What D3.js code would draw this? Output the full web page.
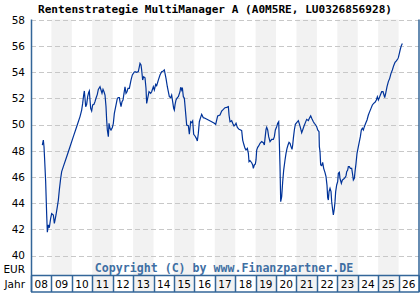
<!DOCTYPE html>
<html><head><meta charset="utf-8">
<script src="https://cdn.jsdelivr.net/npm/d3@7"></script>
<style>html,body{margin:0;padding:0;background:#fff;}svg{display:block;}</style>
</head><body>
<script>
const title = "Rentenstrategie MultiManager A (A0M5RE, LU0326856928)";
const copyright = "Copyright (C) by www.Finanzpartner.DE";
const yTicks = [40,42,44,46,48,50,52,54,56,58];
const yearLabels = ["08","09","10","11","12","13","14","15","16","17","18","19","20","21","22","23","24","25","26"];
const shadedYears = [2009,2011,2013,2015,2017,2019,2021,2023,2025];
const shadedYearCells = [2011,2013,2015,2017,2019,2021,2023,2025];
const times = [
2008.555,2008.604,2008.637,2008.669,2008.718,2008.767,2008.800,2008.849,2008.898,2008.963,2009.012,2009.094,2009.143,2009.192,2009.224,2009.290,2009.339,2009.387,2009.453,2009.502,2009.583,2009.747,2009.910,2010.073,2010.236,2010.400,2010.481,2010.530,2010.579,2010.612,2010.644,2010.677,2010.726,2010.775,2010.824,2010.857,2010.889,2010.922,2010.971,2011.020,2011.085,2011.134,2011.183,2011.248,2011.297,2011.379,2011.428,2011.477,2011.526,2011.575,2011.624,2011.673,2011.705,2011.738,2011.787,2011.820,2011.869,2011.918,2011.983,2012.032,2012.081,2012.130,2012.179,2012.228,2012.277,2012.326,2012.359,2012.408,2012.457,2012.505,2012.554,2012.603,2012.652,2012.701,2012.750,2012.816,
2012.897,2012.962,2013.044,2013.093,2013.174,2013.256,2013.338,2013.387,2013.419,2013.468,2013.517,2013.582,2013.631,2013.664,2013.713,2013.778,2013.860,2013.909,2013.991,2014.040,2014.105,2014.154,2014.235,2014.317,2014.399,2014.480,2014.529,2014.562,2014.611,2014.676,2014.725,2014.774,2014.839,2014.888,2014.937,2014.986,2015.019,2015.052,2015.101,2015.166,2015.215,2015.296,2015.329,2015.378,2015.411,2015.460,2015.509,2015.574,2015.623,2015.705,2015.754,2015.819,2015.868,2015.917,2015.966,2016.031,2016.096,2016.145,2016.194,2016.243,2016.292,2016.358,2016.439,2016.521,2016.684,2016.847,2016.978,2017.043,2017.092,2017.141,2017.255,2017.337,2017.419,2017.500,
2017.582,2017.664,2017.697,2017.746,2017.827,2017.876,2017.942,2017.991,2018.040,2018.105,2018.187,2018.268,2018.317,2018.366,2018.431,2018.480,2018.529,2018.595,2018.644,2018.676,2018.725,2018.807,2018.856,2018.888,2018.937,2018.986,2019.019,2019.052,2019.100,2019.149,2019.215,2019.296,2019.378,2019.427,2019.460,2019.509,2019.541,2019.590,2019.639,2019.705,2019.786,2019.868,2019.917,2019.966,2020.031,2020.080,2020.129,2020.162,2020.194,2020.227,2020.276,2020.325,2020.374,2020.439,2020.488,2020.537,2020.586,2020.635,2020.684,2020.733,2020.782,2020.815,2020.847,2020.896,2020.945,2021.010,2021.092,2021.174,2021.255,2021.304,2021.370,2021.435,2021.500,2021.582,2021.631,2021.696,2021.745,2021.827,2021.876,2021.941,2021.990,
2022.039,2022.104,2022.120,2022.153,2022.185,2022.234,2022.283,2022.332,2022.398,2022.447,2022.496,2022.528,2022.561,2022.594,2022.643,2022.692,2022.724,2022.773,2022.806,2022.855,2022.887,2022.920,2022.969,2023.018,2023.051,2023.100,2023.132,2023.198,2023.247,2023.312,2023.377,2023.426,2023.459,2023.508,2023.540,2023.589,2023.638,2023.704,2023.753,2023.785,2023.834,2023.867,2023.916,2023.965,2024.030,2024.079,2024.128,2024.177,2024.226,2024.275,2024.324,2024.389,2024.455,2024.520,2024.585,2024.650,2024.716,2024.781,2024.846,2024.912,2024.961,2025.010,2025.059,2025.108,2025.173,2025.238,2025.287,2025.320,2025.369,2025.434,2025.499,2025.565,2025.630,2025.695,2025.760,2025.826,2025.891,2025.956,2025.989,2026.038,2026.087,2026.136,2026.185];
const values = [
48.44,48.82,48.31,47.30,45.64,43.15,41.78,42.34,42.13,42.85,43.20,43.10,42.46,42.85,43.10,43.74,44.24,45.01,45.90,46.41,46.79,47.55,48.31,49.08,49.84,50.61,51.11,51.62,52.26,52.57,52.01,51.37,51.55,52.13,52.46,52.57,51.88,51.24,51.04,51.50,51.55,51.75,52.01,52.31,52.69,52.89,52.64,52.39,52.69,52.51,52.26,51.37,50.35,49.59,49.08,50.10,49.71,49.59,49.77,50.10,50.86,51.24,51.62,52.01,52.06,52.06,51.75,51.37,51.75,51.88,52.39,52.89,52.39,52.51,52.77,52.77,
53.40,53.79,53.99,54.04,53.99,54.04,54.68,54.55,54.17,53.40,53.66,53.58,52.77,51.62,52.01,52.51,52.39,52.51,52.89,52.64,53.07,52.97,53.40,53.79,54.04,54.09,54.17,53.91,53.53,52.89,52.51,52.13,52.06,52.26,51.75,51.24,51.11,51.50,51.88,52.06,52.13,52.51,52.85,52.64,52.82,52.13,52.01,50.86,49.97,49.92,49.26,50.22,50.15,50.28,49.26,49.13,48.95,48.75,49.33,50.22,50.48,50.78,50.53,50.48,50.35,50.22,50.10,50.02,50.35,50.66,50.73,51.04,51.16,51.29,
51.32,51.37,50.73,50.22,50.30,50.10,49.89,49.97,50.10,49.79,49.64,49.59,49.54,48.82,48.44,48.19,48.06,48.19,47.81,47.17,47.25,47.09,46.92,46.66,46.92,46.99,47.30,48.06,48.26,48.37,48.57,48.70,48.62,48.44,48.95,49.64,49.79,49.59,49.08,48.70,48.87,48.87,49.08,49.59,49.84,50.10,50.22,48.57,46.79,44.12,44.50,45.64,46.53,47.30,47.81,48.19,48.44,48.65,48.57,48.32,48.11,48.44,48.95,49.59,50.02,50.15,50.30,49.89,49.38,49.59,49.89,50.15,50.40,50.30,50.48,50.66,50.48,50.22,50.10,49.97,49.84,
49.59,49.46,48.32,47.93,46.92,46.87,47.12,46.66,46.33,46.03,45.34,44.42,44.24,44.88,45.13,44.88,44.12,43.48,43.10,43.61,44.12,44.88,45.39,45.64,46.28,46.36,45.90,45.52,45.77,45.85,45.95,46.10,46.41,46.53,46.79,46.79,46.66,46.66,46.15,45.77,45.90,46.41,47.04,47.81,48.32,48.70,49.08,49.59,49.72,49.59,49.84,50.10,50.35,50.73,50.99,51.24,51.50,51.62,51.70,51.88,52.13,51.88,52.06,52.26,52.51,52.51,52.26,52.06,52.39,52.90,53.28,53.53,53.91,54.17,54.50,54.75,54.86,55.01,55.11,55.44,55.77,56.03,56.20];

const W = 420, H = 300;
const frame = "#336699";
const svg = d3.select("body").append("svg").attr("width", W).attr("height", H);

const x = d3.scaleLinear().domain([2008, 2027]).range([31, 419]);
const y = d3.scaleLinear().domain([40, 58]).range([255.6, 19.8]);
const plotTop = 19.5, plotBottom = 275.5, boxBottom = 292;

// shaded year columns
svg.append("g").selectAll("rect").data(shadedYears).join("rect")
  .attr("x", d => x(d)).attr("y", plotTop).attr("width", d => x(d + 1) - x(d))
  .attr("height", plotBottom - plotTop).attr("fill", "#f2f2f2");

// gridlines
svg.append("g").selectAll("line").data(yTicks).join("line")
  .attr("x1", x(2008)).attr("x2", x(2027))
  .attr("y1", d => Math.round(y(d)) + 0.5).attr("y2", d => Math.round(y(d)) + 0.5)
  .attr("stroke", "#c8c8c8").attr("stroke-width", 1).attr("stroke-dasharray", "5,3");

// y labels
svg.append("g").selectAll("text").data(yTicks).join("text")
  .attr("x", 25).attr("y", d => y(d)).attr("dy", "0.36em").attr("text-anchor", "end")
  .attr("font-family", "DejaVu Sans").attr("font-size", 10.5).attr("fill", "#000")
  .text(d => d);

// line
const line = d3.line().x((d, i) => x(times[i])).y(d => y(d));
svg.append("path").datum(values).attr("d", line).attr("fill", "none")
  .attr("stroke", "#003399").attr("stroke-width", 1.2).attr("stroke-linejoin", "miter");

// year box
svg.append("g").selectAll("rect").data(shadedYearCells).join("rect")
  .attr("x", d => x(d)).attr("y", plotBottom).attr("width", d => x(d + 1) - x(d))
  .attr("height", boxBottom - plotBottom).attr("fill", "#f2f2f2");
const yearStarts = yearLabels.map((l, i) => 2008 + i);
svg.append("g").selectAll("line").data(yearStarts.concat([2027])).join("line")
  .attr("x1", d => Math.round(x(d)) + 0.5).attr("x2", d => Math.round(x(d)) + 0.5)
  .attr("y1", plotBottom).attr("y2", boxBottom)
  .attr("stroke", frame).attr("stroke-width", 1.5);
svg.append("line").attr("x1", 31).attr("x2", 419.5).attr("y1", plotBottom).attr("y2", plotBottom)
  .attr("stroke", frame).attr("stroke-width", 1.5);
svg.append("line").attr("x1", 31).attr("x2", 419.5).attr("y1", boxBottom).attr("y2", boxBottom)
  .attr("stroke", frame).attr("stroke-width", 1.5);
svg.append("g").selectAll("text").data(yearLabels).join("text")
  .attr("x", (d, i) => (x(2008 + i) + x(2009 + i)) / 2).attr("y", 288)
  .attr("text-anchor", "middle").attr("font-family", "DejaVu Sans").attr("font-size", 10.5)
  .attr("fill", "#000").text(d => d);

// frame sides
svg.append("line").attr("x1", 31.5).attr("x2", 31.5).attr("y1", plotTop).attr("y2", boxBottom)
  .attr("stroke", frame).attr("stroke-width", 1.5);
svg.append("line").attr("x1", 419).attr("x2", 419).attr("y1", plotTop).attr("y2", boxBottom)
  .attr("stroke", frame).attr("stroke-width", 1.5);

// labels
svg.append("text").attr("x", 25).attr("y", 273).attr("text-anchor", "end")
  .attr("font-family", "DejaVu Sans").attr("font-size", 10.5).text("EUR");
svg.append("text").attr("x", 25).attr("y", 288).attr("text-anchor", "end")
  .attr("font-family", "DejaVu Sans").attr("font-size", 10.5).text("Jahr");
svg.append("text").attr("x", 215).attr("y", 13).attr("text-anchor", "middle")
  .attr("font-family", "DejaVu Sans Mono").attr("font-weight", "bold").attr("font-size", 11.1)
  .attr("fill", "#000").text(title);
svg.append("text").attr("x", 224).attr("y", 272).attr("text-anchor", "middle")
  .attr("font-family", "DejaVu Sans Mono").attr("font-weight", "bold").attr("font-size", 11.6)
  .attr("fill", "#3f6fa3").text(copyright);
</script>
</body></html>
